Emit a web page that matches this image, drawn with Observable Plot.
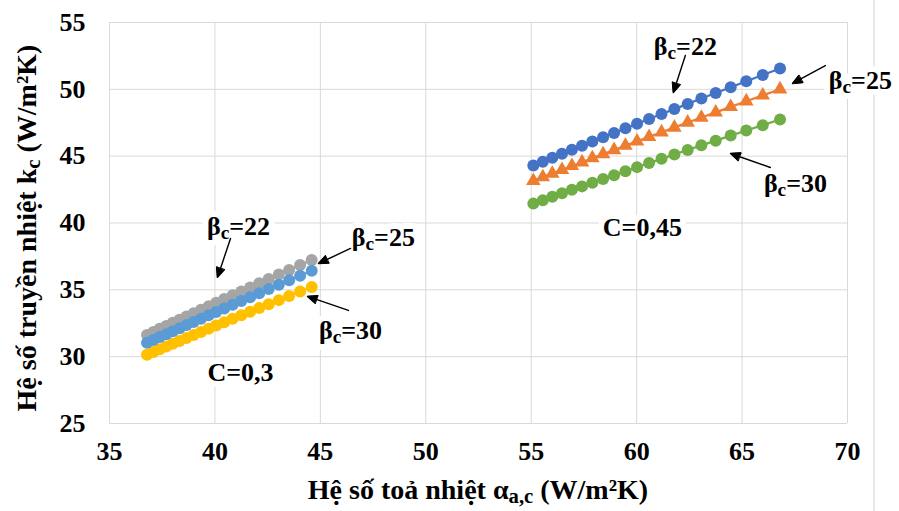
<!DOCTYPE html>
<html><head><meta charset="utf-8">
<script src="https://cdn.jsdelivr.net/npm/d3@7"></script>
<script src="https://cdn.jsdelivr.net/npm/@observablehq/plot@0.6"></script>
<style>
body{margin:0;background:#fff;}
#chart{position:relative;width:899px;height:511px;overflow:hidden;}
</style></head><body><div id="chart"></div>
<script>
// ---- data ----
const alphaC045 = [55.10, 55.55, 56.00, 56.46, 56.93, 57.41, 57.90, 58.41, 58.93, 59.47, 60.02, 60.59, 61.18, 61.79, 62.42, 63.07, 63.75, 64.46, 65.20, 65.98, 66.80];
const kC045b22 = [44.30, 44.59, 44.88, 45.18, 45.48, 45.78, 46.09, 46.42, 46.74, 47.08, 47.43, 47.78, 48.15, 48.52, 48.91, 49.31, 49.73, 50.16, 50.60, 51.07, 51.56];
const kC045b25 = [43.15, 43.43, 43.70, 43.98, 44.27, 44.55, 44.85, 45.16, 45.46, 45.79, 46.11, 46.45, 46.79, 47.15, 47.52, 47.89, 48.28, 48.69, 49.11, 49.55, 50.01];
const kC045b30 = [41.45, 41.70, 41.96, 42.22, 42.48, 42.74, 43.02, 43.30, 43.58, 43.88, 44.18, 44.48, 44.80, 45.13, 45.46, 45.81, 46.16, 46.54, 46.92, 47.32, 47.74];
const alphaC03 = [36.78, 37.08, 37.38, 37.69, 38.00, 38.32, 38.65, 38.99, 39.34, 39.70, 40.06, 40.44, 40.84, 41.25, 41.67, 42.10, 42.55, 43.03, 43.52, 44.04, 44.59];
const kC03b22 = [31.63, 31.85, 32.08, 32.30, 32.53, 32.77, 33.01, 33.25, 33.51, 33.77, 34.03, 34.31, 34.59, 34.88, 35.18, 35.49, 35.81, 36.15, 36.49, 36.86, 37.24];
const kC03b25 = [31.04, 31.25, 31.47, 31.68, 31.91, 32.13, 32.36, 32.60, 32.84, 33.09, 33.35, 33.61, 33.88, 34.16, 34.45, 34.75, 35.06, 35.38, 35.71, 36.06, 36.43];
const kC03b30 = [30.15, 30.35, 30.55, 30.76, 30.97, 31.18, 31.40, 31.62, 31.85, 32.09, 32.33, 32.57, 32.83, 33.09, 33.36, 33.64, 33.93, 34.23, 34.54, 34.87, 35.21];

const xTicks = [35, 40, 45, 50, 55, 60, 65, 70];
const yTicks = [25, 30, 35, 40, 45, 50, 55];

const labelText = ["β_{c}=22", "β_{c}=25", "β_{c}=30", "C=0,3", "β_{c}=22", "β_{c}=25", "β_{c}=30", "C=0,45"];
const labelX = [41.12, 47.99, 46.43, 41.21, 62.31, 70.61, 67.53, 60.27];
const labelY = [39.74, 38.92, 31.96, 28.82, 53.20, 50.66, 42.96, 39.67];

const arrowX1 = [40.74, 46.43, 46.33, 62.31, 68.95, 66.34];
const arrowY1 = [38.84, 38.10, 33.46, 52.53, 51.78, 44.15];
const arrowX2 = [40.12, 44.91, 44.39, 61.74, 67.39, 64.45];
const arrowY2 = [35.93, 36.97, 34.51, 49.76, 50.44, 45.20];

const xTitle = "Hệ số toả nhiệt α_{a,c} (W/m²K)";
const yTitle = "Hệ số truyền nhiệt k_{c} (W/m²K)";

// series in Excel drawing order
const series = [
  {alpha: alphaC045, k: kC045b22, color: "#4472C4", symbol: "circle"},
  {alpha: alphaC045, k: kC045b25, color: "#ED7D31", symbol: "triangle"},
  {alpha: alphaC03,  k: kC03b22,  color: "#A5A5A5", symbol: "circle"},
  {alpha: alphaC03,  k: kC03b30,  color: "#FFC000", symbol: "circle"},
  {alpha: alphaC03,  k: kC03b25,  color: "#5B9BD5", symbol: "circle"},
  {alpha: alphaC045, k: kC045b30, color: "#70AD47", symbol: "circle"}
];

const labels = labelText.map((t, i) => ({t, x: labelX[i], y: labelY[i]}));
const arrows = arrowX1.map((x1, i) => ({x1, y1: arrowY1[i], x2: arrowX2[i], y2: arrowY2[i]}));

const FONT = "'Liberation Serif', 'Times New Roman', serif";

const seriesMarks = [];
for (const s of series) {
  const rows = s.alpha.map((a, i) => ({a, k: s.k[i]}));
  seriesMarks.push(Plot.line(rows, {x: "a", y: "k", stroke: s.color, strokeWidth: 2.25}));
  seriesMarks.push(Plot.dot(rows, {x: "a", y: "k", fill: s.color, stroke: "none", symbol: s.symbol, r: s.symbol === "triangle" ? 5.4 : 6}));
}

const plot = Plot.plot({
  width: 899, height: 511,
  marginLeft: 109, marginRight: 52, marginTop: 22, marginBottom: 88,
  style: {fontFamily: FONT, fontWeight: "bold", fontSize: "26px", color: "#000", background: "#fff"},
  x: {domain: [35, 70], ticks: xTicks, tickSize: 0, tickPadding: 18, label: null, tickFormat: d => String(d)},
  y: {domain: [25, 55], ticks: yTicks, tickSize: 0, tickPadding: 24, label: null, tickFormat: d => String(d)},
  marks: [
    Plot.gridX(xTicks, {stroke: "#d9d9d9", strokeOpacity: 1, strokeWidth: 1}),
    Plot.gridY(yTicks, {stroke: "#d9d9d9", strokeOpacity: 1, strokeWidth: 1}),
    ...seriesMarks,
    // white box-like halo behind the annotation labels
    Plot.text(labels, {x: "x", y: "y", text: "t", fill: "#fff", stroke: "#fff", strokeWidth: 12, fontSize: 26, fontWeight: "bold", textAnchor: "middle", lineAnchor: "middle"}),
    Plot.text(labels, {x: "x", y: "y", text: "t", fill: "#000", fontSize: 26, fontWeight: "bold", textAnchor: "middle", lineAnchor: "middle"}),
    Plot.arrow(arrows, {x1: "x1", y1: "y1", x2: "x2", y2: "y2", stroke: "#000", strokeWidth: 1.4, headLength: 11, headAngle: 46})
  ]
});

document.getElementById("chart").appendChild(plot);
const svg = d3.select(plot);

// filled arrow heads
svg.selectAll('g[aria-label="arrow"] path').each(function() {
  const d = this.getAttribute("d");
  const parts = d.split("M").filter(p => p.length);
  if (parts.length >= 2) {
    d3.select(this.parentNode).append("path")
      .attr("d", "M" + parts[parts.length - 1] + "Z")
      .attr("fill", "#000").attr("stroke", "#000").attr("stroke-width", 1);
  }
});

// rich text with subscripts written as _{...}
function rich(textSel, str, fs) {
  textSel.text(null);
  const re = /_\{([^}]*)\}/g;
  let last = 0, m, shift = 0;
  while ((m = re.exec(str))) {
    if (m.index > last) { textSel.append("tspan").attr("dy", shift ? -shift : null).text(str.slice(last, m.index)); shift = 0; }
    const sh = fs * 0.16;
    textSel.append("tspan").attr("dy", sh).attr("font-size", fs * 0.74).text(m[1]);
    shift = sh;
    last = re.lastIndex;
  }
  if (last < str.length) textSel.append("tspan").attr("dy", shift ? -shift : null).text(str.slice(last));
}
svg.selectAll('g[aria-label="text"] text').each(function() {
  const t = this.textContent;
  if (t.includes("_{")) rich(d3.select(this), t, 26);
});

// decorative outer border line at right
svg.insert("line", ":first-child")
  .attr("x1", 874).attr("x2", 874).attr("y1", 0).attr("y2", 511)
  .attr("stroke", "#d9d9d9").attr("stroke-width", 1.2);
// axis titles
const xt = svg.append("text").attr("x", 478).attr("y", 499).attr("text-anchor", "middle")
  .attr("font-size", 28).attr("font-weight", "bold").attr("font-family", FONT).attr("fill", "#000");
rich(xt, xTitle, 28);
const yt = svg.append("text").attr("transform", "translate(36,228) rotate(-90)").attr("text-anchor", "middle")
  .attr("font-size", 28).attr("font-weight", "bold").attr("font-family", FONT).attr("fill", "#000");
rich(yt, yTitle, 28);
</script>
</body></html>
